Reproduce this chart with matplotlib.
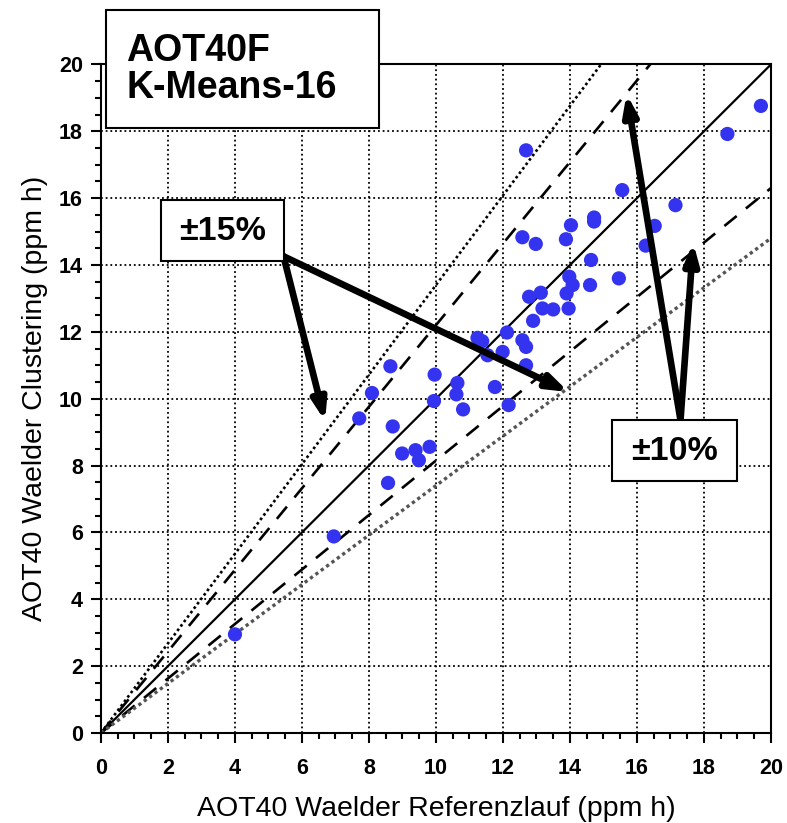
import matplotlib
matplotlib.use("Agg")
import matplotlib.pyplot as plt
from matplotlib.patches import Rectangle
from matplotlib.ticker import MultipleLocator
import numpy as np

plt.rcParams['font.family'] = ['Liberation Sans', 'DejaVu Sans']

# AOT40 Waelder, Referenzlauf vs. Clustering (ppm h)
ref_run = [4.00, 6.95, 7.71, 8.09, 8.64, 8.71, 8.57, 8.99, 9.39, 9.49,
           9.81, 9.94, 9.96, 10.64, 10.61, 10.81, 11.24, 11.38, 11.54, 11.76,
           11.99, 12.12, 12.17, 12.58, 12.69, 12.69, 12.90, 12.78, 13.13, 13.18,
           13.50, 13.96, 13.98, 14.08, 13.90, 14.60, 14.63, 15.46, 12.58, 12.98,
           13.88, 14.03, 14.72, 14.72, 15.56, 16.26, 16.53, 17.15, 18.70, 19.70,
           12.69]
clustering = [2.95, 5.88, 9.41, 10.17, 10.97, 9.17, 7.48, 8.36, 8.46, 8.16,
              8.56, 9.93, 10.72, 10.47, 10.13, 9.68, 11.82, 11.72, 11.30, 10.35,
              11.40, 11.98, 9.81, 11.75, 11.55, 11.00, 12.33, 13.05, 13.17, 12.70,
              12.67, 12.70, 13.65, 13.40, 13.15, 13.40, 14.15, 13.60, 14.83, 14.63,
              14.77, 15.19, 15.42, 15.30, 16.24, 14.58, 15.17, 15.79, 17.92, 18.76,
              17.43]

# slopes of the reference lines as drawn in the original
slope_1to1 = 1.0
slopes_dashed = [1.22, 0.815]
slope_dot_upper = 1.34
slope_dot_lower = 0.74

fig = plt.figure(figsize=(7.87, 8.23), dpi=100)
ax = fig.add_axes([0.1283, 0.1094, 0.8513, 0.8123])

ax.set_xlim(0, 20)
ax.set_ylim(0, 20)
ax.xaxis.set_major_locator(MultipleLocator(2))
ax.yaxis.set_major_locator(MultipleLocator(2))
ax.xaxis.set_minor_locator(MultipleLocator(0.5))
ax.yaxis.set_minor_locator(MultipleLocator(0.5))
ax.tick_params(which='major', direction='out', length=7, width=1.5,
               labelsize=15.5)
ax.tick_params(axis='x', which='major', pad=11)
ax.tick_params(axis='y', which='major', pad=6)
ax.tick_params(which='minor', direction='out', length=4, width=1.5)
for lab in ax.get_xticklabels() + ax.get_yticklabels():
    lab.set_fontweight('bold')
for sp in ax.spines.values():
    sp.set_linewidth(1.5)

ax.grid(True, which='major', color='black', linestyle=(0, (1, 1.6)), linewidth=1.3)
ax.set_axisbelow(True)

xs = np.array([0, 20])
ax.plot(xs, slope_1to1 * xs, color='black', lw=1.6, zorder=2)
for s in slopes_dashed:
    ax.plot(xs, s * xs, color='black', lw=1.9, dashes=(6, 4.5), zorder=2)
ax.plot(xs, slope_dot_upper * xs, color='black', lw=1.9, linestyle=(0, (1, 1.1)), zorder=2)
ax.plot(xs, slope_dot_lower * xs, color='#555555', lw=2.4, linestyle=(0, (1, 1.0)), zorder=2)

ax.scatter(ref_run, clustering, s=105, color='#3434f0', edgecolors='none', zorder=3)

ax.set_xlabel('AOT40 Waelder Referenzlauf (ppm h)', fontsize=20.5, labelpad=12)
ax.set_ylabel('AOT40 Waelder Clustering (ppm h)', fontsize=20.5, labelpad=8)

# title box
ax.add_patch(Rectangle((0.15, 18.09), 8.15, 3.55, facecolor='white', edgecolor='black',
                       lw=1.5, clip_on=False, zorder=5))
ax.text(0.75, 19.85, 'AOT40F\nK-Means-16', fontsize=27, fontweight='bold',
        ha='left', va='center', linespacing=1.05, zorder=6, clip_on=False)

arrow_kw = dict(arrowstyle='-|>,head_length=1.2,head_width=0.42', color='black',
                lw=4.8, shrinkA=0, shrinkB=0)

# +-15% label and arrows
for tip in [(6.69, 9.33), (13.96, 10.2)]:
    ax.annotate('', xy=tip, xytext=(5.45, 14.26), arrowprops=arrow_kw, zorder=4)
ax.add_patch(Rectangle((1.78, 14.11), 3.68, 1.82, facecolor='white', edgecolor='black',
                       lw=1.5, zorder=5))
ax.text(3.62, 15.0, '±15%', fontsize=24.5, fontweight='bold', ha='center', va='center', zorder=6)

# +-10% label and arrows
for tip in [(15.69, 19.12), (17.68, 14.67)]:
    ax.annotate('', xy=tip, xytext=(17.3, 9.36), arrowprops=arrow_kw, zorder=4)
ax.add_patch(Rectangle((15.26, 7.54), 3.72, 1.82, facecolor='white', edgecolor='black',
                       lw=1.5, zorder=5))
ax.text(17.12, 8.43, '±10%', fontsize=24.5, fontweight='bold', ha='center', va='center', zorder=6)

fig.savefig('out.png', dpi=100)
